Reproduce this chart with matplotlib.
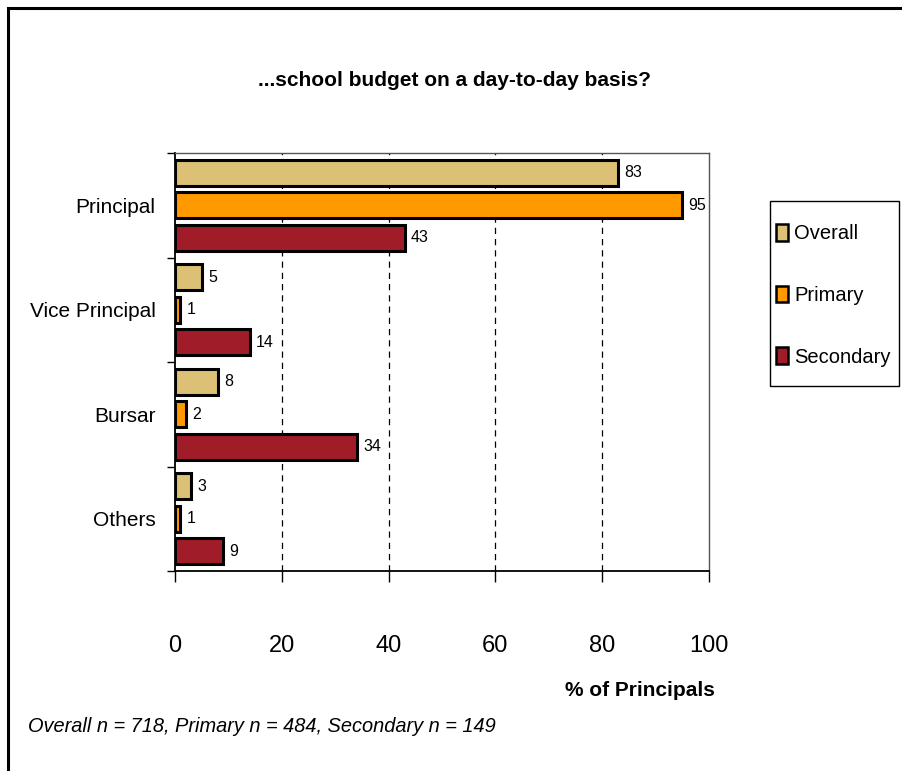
import numpy as np
import matplotlib
matplotlib.use("Agg")
import matplotlib.pyplot as plt
from matplotlib.patches import Patch, Rectangle

plt.rcParams['font.family'] = ['Liberation Sans', 'DejaVu Sans']

roles = ["Principal", "Vice Principal", "Bursar", "Others"]
overall = [83, 5, 8, 3]
primary = [95, 1, 2, 1]
secondary = [43, 14, 34, 9]
series_names = ["Overall", "Primary", "Secondary"]
colors = ["#DBC075", "#FF9900", "#A01C28"]
x_ticks = [0, 20, 40, 60, 80, 100]

W, H = 903, 771
fig = plt.figure(figsize=(W / 100, H / 100), dpi=100)

# outer frame of the chart (only top and left edges fall inside the image)
fig.patches.append(Rectangle((8 / W, -0.1), 1.2, 1.1 - 8 / H,
                             transform=fig.transFigure, fill=False,
                             edgecolor="black", linewidth=2.2, zorder=0))

ax = fig.add_axes([175 / W, (H - 571) / H, 534 / W, 418 / H])

y = np.arange(len(roles))
bar_h = 0.25
step = 0.31
for i, (vals, col) in enumerate(zip([overall, primary, secondary], colors)):
    pos = y + (i - 1) * step
    ax.barh(pos, vals, height=bar_h, color=col, edgecolor="black",
            linewidth=2.2, zorder=3)
    for p, v in zip(pos, vals):
        ax.text(v + 1.2, p, str(v), va="center", ha="left", fontsize=11.5, zorder=4)

ax.set_xlim(0, 100)
ax.set_ylim(len(roles) - 0.5, -0.5)
ax.set_xticks(x_ticks)
ax.set_xticklabels([str(t) for t in x_ticks], fontsize=17)
ax.tick_params(axis="x", direction="out", length=8, width=1, pad=38, top=False)

# category labels centred, ticks at group boundaries
ax.set_yticks(y)
ax.set_yticklabels(roles, fontsize=15)
ax.tick_params(axis="y", length=0, pad=14)
ax.set_yticks(np.arange(len(roles) + 1) - 0.5, minor=True)
ax.tick_params(axis="y", which="minor", length=6, width=1)

for t in x_ticks[1:-1]:
    ax.axvline(t, color="black", linestyle=(0, (5, 4)), linewidth=0.9, zorder=1)

for side in ["left", "bottom"]:
    ax.spines[side].set_linewidth(1.3)
    ax.spines[side].set_color("black")
for side in ["top", "right"]:
    ax.spines[side].set_linewidth(1.0)
    ax.spines[side].set_color("#555555")

fig.text(455 / W, 1 - 80 / H, "...school budget on a day-to-day basis?",
         ha="center", va="center", fontsize=15, fontweight="bold")
fig.text(640 / W, 1 - 690 / H, "% of Principals", ha="center", va="center",
         fontsize=15, fontweight="bold")
fig.text(28 / W, 1 - 727 / H, "Overall n = 718, Primary n = 484, Secondary n = 149",
         ha="left", va="center", fontsize=14.4, style="italic")

# legend entries without their own frame, boxed by a separate rectangle
handles = [Patch(facecolor=c, edgecolor="black", linewidth=1.8) for c in colors]
fig.legend(handles, series_names, loc="upper left",
           bbox_to_anchor=(776 / W, 1 - 224 / H), fontsize=14.5,
           frameon=False, handlelength=0.6, handleheight=0.9,
           handletextpad=0.3, labelspacing=2.1, borderpad=0,
           borderaxespad=0)
fig.patches.append(Rectangle((770 / W, 1 - 386 / H), 129 / W, 185 / H,
                             transform=fig.transFigure, fill=False,
                             edgecolor="black", linewidth=1.0))

fig.savefig("out.png", dpi=100)
